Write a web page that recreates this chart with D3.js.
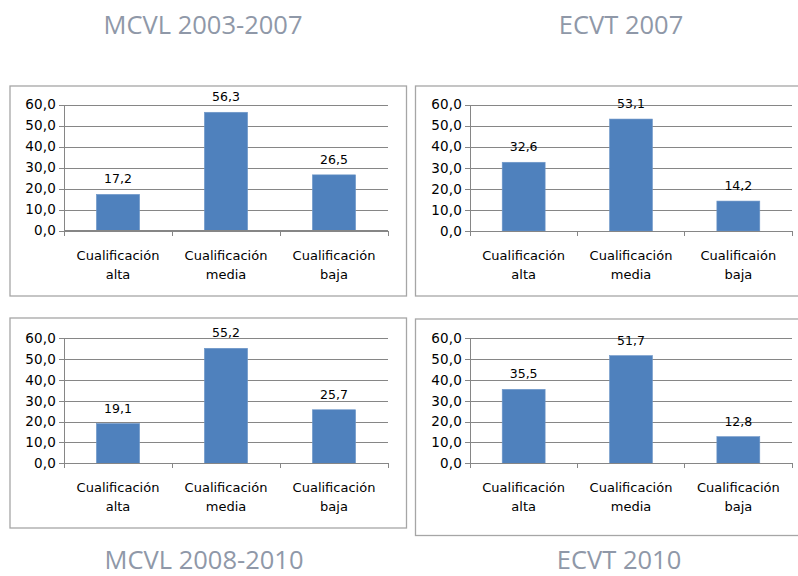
<!DOCTYPE html>
<html>
<head>
<meta charset="utf-8">
<script src="https://cdn.jsdelivr.net/npm/d3@7"></script>
<style>
  body { margin: 0; background: #fff; }
  .grid line { stroke: #868686; }
  .grid path { display: none; }
  .tick text { fill: #000; }
</style>
</head>
<body>
<svg width="798" height="576"></svg>
<script>
const titles = ['MCVL 2003-2007', 'ECVT 2007', 'MCVL 2008-2010', 'ECVT 2010'];
const categories = ['Cualificación alta', 'Cualificación media', 'Cualificación baja'];
const categoriesEcvt2007 = ['Cualificación alta', 'Cualificación media', 'Cualificaión baja'];
const mcvl20032007 = [17.2, 56.3, 26.5];
const ecvt2007 = [32.6, 53.1, 14.2];
const mcvl20082010 = [19.1, 55.2, 25.7];
const ecvt2010 = [35.5, 51.7, 12.8];
const yTicks = [0, 10, 20, 30, 40, 50, 60];

const series = [
  { cats: categories, values: mcvl20032007 },
  { cats: categoriesEcvt2007, values: ecvt2007 },
  { cats: categories, values: mcvl20082010 },
  { cats: categories, values: ecvt2010 }
];

// panel boxes and plot areas
const layout = [
  { box: [10, 86, 396.5, 210], x0: 64, x1: 388, y0: 230.5, y1: 104.5, title: [203, 34] },
  { box: [415.5, 86, 385, 210], x0: 470, x1: 792, y0: 231, y1: 104.5, title: [621, 34] },
  { box: [10, 318, 396.5, 210], x0: 64, x1: 388, y0: 463.3, y1: 338.3, title: [204, 569] },
  { box: [415.5, 319, 385, 216.5], x0: 470, x1: 792, y0: 463.3, y1: 338.3, title: [619, 569] }
];

const locale = d3.formatLocale({ decimal: ',', thousands: '.', grouping: [3], currency: ['', '€'] });
const fmt = locale.format('.1f');

const svg = d3.select('svg');

layout.forEach((l, i) => {
  const s = series[i];

  svg.append('rect')
    .attr('x', l.box[0])
    .attr('y', l.box[1])
    .attr('width', l.box[2])
    .attr('height', l.box[3])
    .attr('fill', '#fff')
    .attr('stroke', '#a6a6a6')
    .attr('stroke-width', 1.3);

  svg.append('text')
    .attr('x', l.title[0])
    .attr('y', l.title[1])
    .attr('text-anchor', 'middle')
    .attr('font-family', 'Open Sans')
    .attr('font-size', 25.5)
    .attr('fill', '#8f98a8')
    .text(titles[i]);

  const xScale = d3.scaleBand()
    .range([l.x0, l.x1])
    .domain(s.cats)
    .paddingInner(0.6)
    .paddingOuter(0.3);

  const yScale = d3.scaleLinear()
    .range([l.y0, l.y1])
    .domain([0, 60]);

  // gridlines with left tick marks
  svg.append('g')
    .attr('class', 'grid')
    .attr('transform', `translate(${l.x0}, 0)`)
    .call(d3.axisLeft(yScale)
      .tickValues(yTicks)
      .tickSize(-(l.x1 - l.x0))
      .tickFormat('')
    )
    .call(g => g.selectAll('line').attr('x1', -5).attr('shape-rendering', 'crispEdges'));

  // y labels
  svg.append('g')
    .attr('transform', `translate(${l.x0}, 0)`)
    .call(d3.axisLeft(yScale).tickValues(yTicks).tickFormat(fmt).tickSize(0).tickPadding(8))
    .call(g => g.select('.domain').attr('stroke', '#868686'))
    .call(g => g.selectAll('text')
      .attr('font-family', 'DejaVu Sans')
      .attr('font-size', 13.5)
      .attr('letter-spacing', 0.2));

  // bars
  svg.append('g')
    .selectAll('rect')
    .data(s.values)
    .join('rect')
    .attr('x', (d, j) => xScale(s.cats[j]))
    .attr('y', d => yScale(d))
    .attr('width', xScale.bandwidth())
    .attr('height', d => l.y0 - yScale(d))
    .attr('fill', '#4f81bd')
    .attr('stroke', '#6f97c8')
    .attr('stroke-width', 0.6);

  // value labels
  svg.append('g')
    .selectAll('text')
    .data(s.values)
    .join('text')
    .attr('x', (d, j) => xScale(s.cats[j]) + xScale.bandwidth() / 2)
    .attr('y', d => yScale(d) - 11)
    .attr('text-anchor', 'middle')
    .attr('font-family', 'DejaVu Sans')
    .attr('font-size', 12.5)
    .attr('fill', '#000')
    .text(d => fmt(d));

  // x axis with ticks at band edges
  const edges = d3.range(s.cats.length + 1).map(k => l.x0 + k * (l.x1 - l.x0) / s.cats.length);
  const xAxis = svg.append('g');
  xAxis.append('line')
    .attr('x1', l.x0).attr('x2', l.x1)
    .attr('y1', l.y0).attr('y2', l.y0)
    .attr('stroke', '#868686')
    .attr('shape-rendering', 'crispEdges');
  xAxis.selectAll('.etick')
    .data(edges)
    .join('line')
    .attr('class', 'etick')
    .attr('x1', d => d).attr('x2', d => d)
    .attr('y1', l.y0).attr('y2', l.y0 + 5)
    .attr('stroke', '#868686')
    .attr('shape-rendering', 'crispEdges');

  // category labels, two lines
  const cl = svg.append('g')
    .selectAll('text')
    .data(s.cats)
    .join('text')
    .attr('text-anchor', 'middle')
    .attr('font-family', 'DejaVu Sans')
    .attr('font-size', 13)
    .attr('fill', '#000')
    .attr('x', d => xScale(d) + xScale.bandwidth() / 2)
    .attr('y', l.y0 + 29);
  cl.each(function (d) {
    const parts = d.split(' ');
    const t = d3.select(this);
    t.append('tspan').text(parts[0]);
    t.append('tspan')
      .attr('x', t.attr('x'))
      .attr('dy', 19)
      .text(parts.slice(1).join(' '));
  });
});
</script>
</body>
</html>
